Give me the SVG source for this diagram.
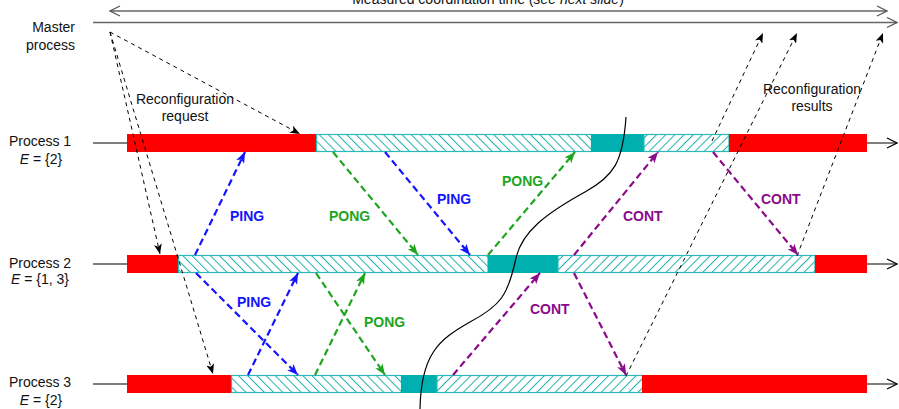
<svg xmlns="http://www.w3.org/2000/svg" width="899" height="409" viewBox="0 0 899 409">
<style>
text{font-family:"Liberation Sans",Arial,sans-serif;font-size:14px;fill:#111}
.lbl{font-weight:bold}
.ping{fill:#1414ff}.pong{fill:#1ea51e}.cont{fill:#8a0a8a}
.tl{stroke:#000;stroke-width:1;fill:none}
.gray{stroke:#666;stroke-width:1.4;fill:none}
.red{fill:#ff0000}
.busy{fill:#00b0b0}
.hb{fill:url(#hatchB);stroke:#2bb8b8;stroke-width:1.2}
.hf{fill:url(#hatchF);stroke:#2bb8b8;stroke-width:1.2}
.blk{stroke:#000;stroke-width:1;stroke-dasharray:4 4;fill:none;marker-end:url(#aBlk)}
.mb{stroke:#1414ff;stroke-width:2.2;stroke-dasharray:7 4;fill:none;marker-end:url(#aBlue)}
.mg{stroke:#1ea51e;stroke-width:2.2;stroke-dasharray:7 4;fill:none;marker-end:url(#aGreen)}
.mp{stroke:#8a0a8a;stroke-width:2.2;stroke-dasharray:7 4;fill:none;marker-end:url(#aPurple)}
.hl{stroke:#22b0b0;stroke-width:1}
</style>
<defs>
<pattern id="hatchB" width="6.5" height="6.5" patternUnits="userSpaceOnUse" patternTransform="rotate(-45)">
<rect width="6.5" height="6.5" fill="#fff"/>
<line x1="0.5" y1="0" x2="0.5" y2="6.5" class="hl"/>
</pattern>
<pattern id="hatchF" width="6.5" height="6.5" patternUnits="userSpaceOnUse" patternTransform="rotate(45)">
<rect width="6.5" height="6.5" fill="#fff"/>
<line x1="0.5" y1="0" x2="0.5" y2="6.5" class="hl"/>
</pattern>
<marker id="openK" viewBox="0 0 12 12" refX="11" refY="6" markerWidth="12" markerHeight="12" markerUnits="userSpaceOnUse" orient="auto">
<path d="M1,1 L11,6 L1,11" fill="none" stroke="#000" stroke-width="1.2"/>
</marker>
<marker id="openG" viewBox="0 0 12 12" refX="11" refY="6" markerWidth="12" markerHeight="12" markerUnits="userSpaceOnUse" orient="auto-start-reverse">
<path d="M1,1 L11,6 L1,11" fill="none" stroke="#555" stroke-width="1.2"/>
</marker>
<marker id="aBlk" viewBox="0 0 10 8" refX="10" refY="4" markerWidth="10" markerHeight="8" markerUnits="userSpaceOnUse" orient="auto">
<path d="M0,0 L10,4 L0,8 L2.5,4 z" fill="#000"/>
</marker>
<marker id="aBlue" viewBox="0 0 10 8" refX="10" refY="4" markerWidth="11" markerHeight="9" markerUnits="userSpaceOnUse" orient="auto">
<path d="M0,0 L10,4 L0,8 L2.5,4 z" fill="#1414ff"/>
</marker>
<marker id="aGreen" viewBox="0 0 10 8" refX="10" refY="4" markerWidth="11" markerHeight="9" markerUnits="userSpaceOnUse" orient="auto">
<path d="M0,0 L10,4 L0,8 L2.5,4 z" fill="#1ea51e"/>
</marker>
<marker id="aPurple" viewBox="0 0 10 8" refX="10" refY="4" markerWidth="11" markerHeight="9" markerUnits="userSpaceOnUse" orient="auto">
<path d="M0,0 L10,4 L0,8 L2.5,4 z" fill="#8a0a8a"/>
</marker>
</defs>
<rect width="899" height="409" fill="#fff"/>

<g id="timing">
<text x="488" y="4" text-anchor="middle">Measured coordination time (<tspan font-style="italic">see next slide</tspan>)</text>
<line x1="110" y1="11" x2="887" y2="11" class="gray" marker-start="url(#openG)" marker-end="url(#openG)"/>
</g>

<g id="master">
<text x="75" y="32" text-anchor="end">Master</text>
<text x="75" y="50" text-anchor="end">process</text>
<line x1="93" y1="22.5" x2="897" y2="22.5" class="gray" marker-end="url(#openG)"/>
</g>

<g id="process1">
<text x="40" y="146" text-anchor="middle">Process 1</text>
<text x="41" y="164" text-anchor="middle"><tspan font-style="italic">E</tspan> = {2}</text>
<line x1="93" y1="143" x2="897" y2="143" class="tl" marker-end="url(#openK)"/>
<rect x="127" y="134" width="189" height="18" class="red"/>
<rect x="316.5" y="134.5" width="275" height="17" class="hb"/>
<rect x="591" y="134" width="53" height="18" class="busy"/>
<rect x="644" y="134.5" width="85" height="17" class="hf"/>
<rect x="729" y="134" width="138" height="18" class="red"/>
</g>

<g id="process2">
<text x="40" y="268" text-anchor="middle">Process 2</text>
<text x="40" y="284" text-anchor="middle"><tspan font-style="italic">E</tspan> = {1, 3}</text>
<line x1="93" y1="264" x2="897" y2="264" class="tl" marker-end="url(#openK)"/>
<rect x="127" y="255" width="51" height="18" class="red"/>
<rect x="178.5" y="255.5" width="309.5" height="17" class="hb"/>
<rect x="488" y="255" width="70" height="18" class="busy"/>
<rect x="558" y="255.5" width="257" height="17" class="hf"/>
<rect x="815" y="255" width="52" height="18" class="red"/>
</g>

<g id="process3">
<text x="40" y="387" text-anchor="middle">Process 3</text>
<text x="41" y="405" text-anchor="middle"><tspan font-style="italic">E</tspan> = {2}</text>
<line x1="93" y1="384" x2="897" y2="384" class="tl" marker-end="url(#openK)"/>
<rect x="127" y="375" width="104" height="18" class="red"/>
<rect x="231.5" y="375.5" width="170" height="17" class="hb"/>
<rect x="401" y="375" width="36" height="18" class="busy"/>
<rect x="437" y="375.5" width="205.5" height="17" class="hf"/>
<rect x="642" y="375" width="225" height="18" class="red"/>
</g>

<g id="connectors">
<path class="blk" d="M110,32 L300,134"/>
<path class="blk" d="M110,32 L160,254"/>
<path class="blk" d="M110,32 L213,374"/>
<path class="blk" d="M712,141 L763,33"/>
<path class="blk" d="M626,376 L797,33"/>
<path class="blk" d="M797,256 L883,33"/>
<path class="mb" d="M195,255 L245,152"/>
<path class="mb" d="M385,152 L470,255"/>
<path class="mb" d="M196,273 L298,375"/>
<path class="mb" d="M248,375 L298,273"/>
<path class="mg" d="M333,152 L418,255"/>
<path class="mg" d="M488,255 L575,152"/>
<path class="mg" d="M316,273 L385,375"/>
<path class="mg" d="M315,375 L365,273"/>
<path class="mp" d="M453,375 L540,273"/>
<path class="mp" d="M574,255 L658,152"/>
<path class="mp" d="M713,152 L798,255"/>
<path class="mp" d="M574,273 L626,375"/>
<path d="M626,117 C623,162 614,176 585,192 C545,214 522,232 516,258 C508,296 500,306 470,322 C438,340 421,355 420,409" fill="none" stroke="#000" stroke-width="1.2"/>
</g>

<g id="labels">
<text x="185" y="104" text-anchor="middle">Reconfiguration</text>
<text x="185" y="121" text-anchor="middle">request</text>
<text x="812" y="94" text-anchor="middle">Reconfiguration</text>
<text x="812" y="111" text-anchor="middle">results</text>
<text x="230" y="221" class="lbl ping">PING</text>
<text x="437" y="204" class="lbl ping">PING</text>
<text x="237" y="307" class="lbl ping">PING</text>
<text x="329" y="221" class="lbl pong">PONG</text>
<text x="502" y="186" class="lbl pong">PONG</text>
<text x="364" y="327" class="lbl pong">PONG</text>
<text x="530" y="314" class="lbl cont">CONT</text>
<text x="623" y="221" class="lbl cont">CONT</text>
<text x="761" y="204" class="lbl cont">CONT</text>
</g>
</svg>
